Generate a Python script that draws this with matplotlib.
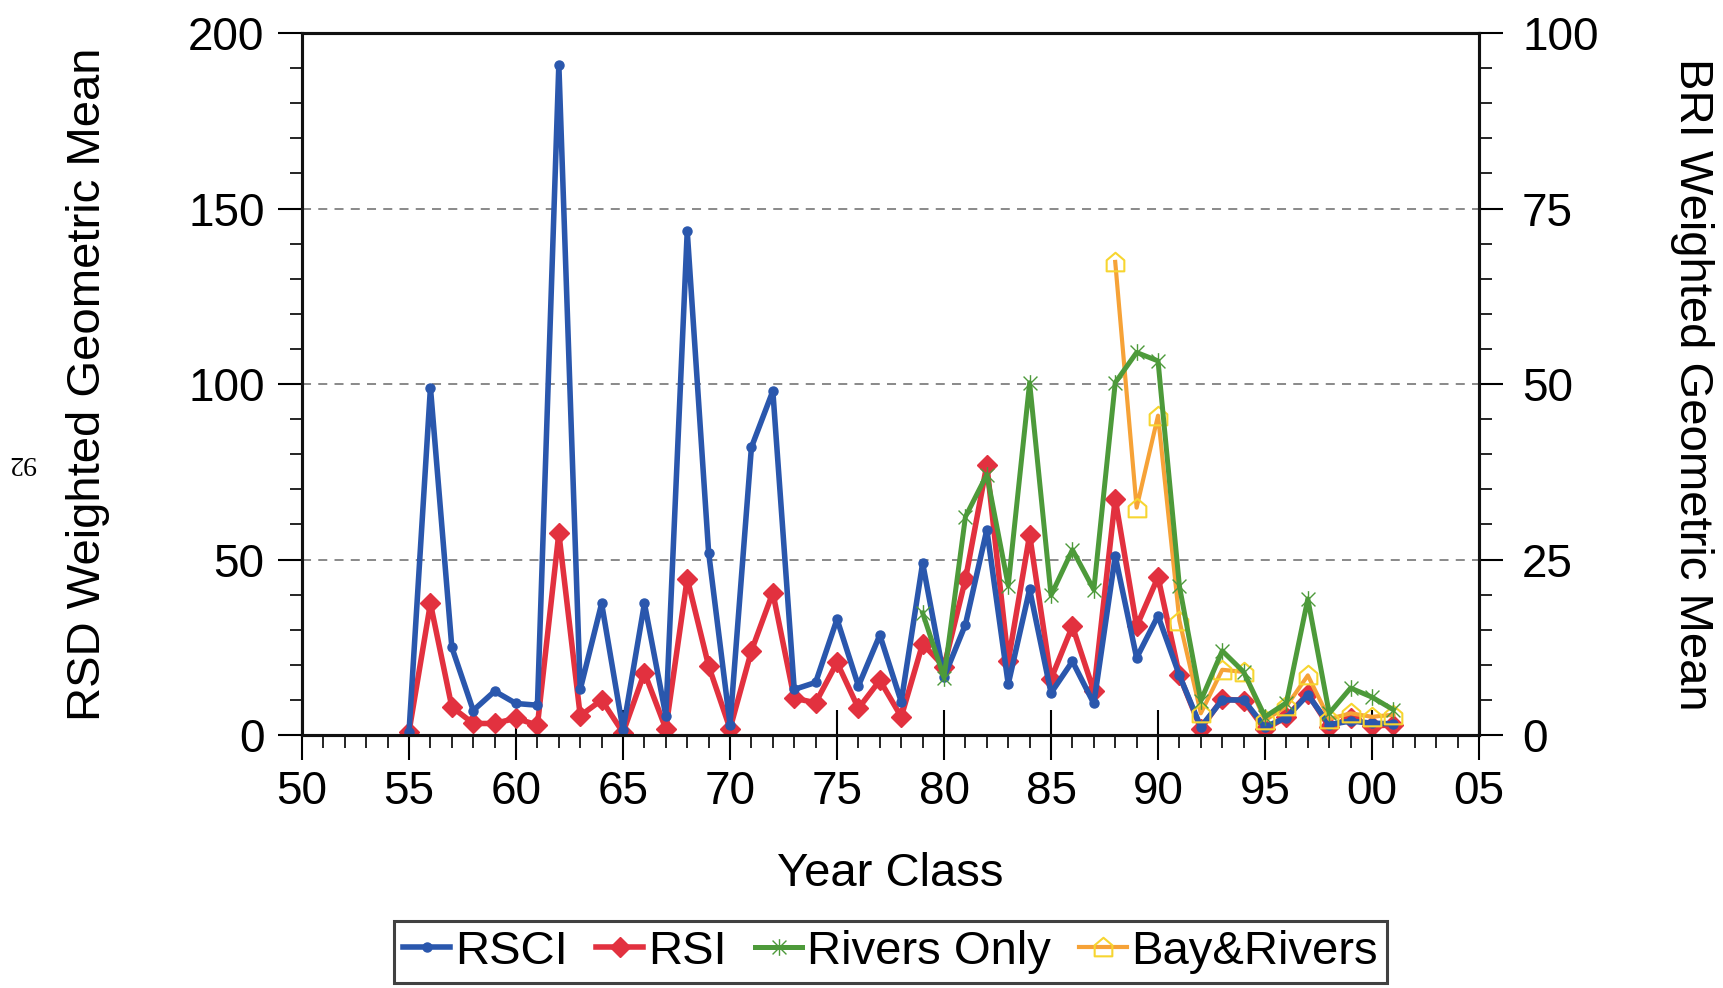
import numpy as np
import matplotlib
matplotlib.use("Agg")
import matplotlib.pyplot as plt
from matplotlib.path import Path
from matplotlib.ticker import MultipleLocator, FuncFormatter
from matplotlib.lines import Line2D

plt.rcParams['font.family'] = ['Liberation Sans', 'DejaVu Sans']

# year classes and index values
years_main = np.arange(1955, 2002)
rsci = [1, 99, 25, 7, 12.5, 9, 8.5, 191, 13, 37.5, 1.5, 37.5, 5.5, 143.5, 52, 3,
        82, 98, 13, 15, 33, 14, 28.5, 9.5, 49, 16.5, 31.5, 58.5, 14.5, 41.5, 12,
        21, 9, 51, 22, 34, 17, 2.3, 10, 10, 2.3, 5, 11.5, 3, 4, 3.4, 3.2]
rsi = [1, 37.5, 8, 3.3, 3.3, 4.8, 2.8, 57.5, 5.5, 10, 0.7, 17.8, 1.8, 44.6, 19.7,
       1.8, 24, 40.6, 10.5, 9.2, 20.7, 7.6, 15.6, 5.2, 26, 19.5, 44.4, 77, 21, 57,
       16, 31, 12.5, 67.3, 31, 45, 17, 1.8, 10.3, 9.8, 1.6, 5.2, 11.8, 2.3, 4.9,
       2.6, 2.9]

years_rivers = np.arange(1979, 2002)
rivers_only = [17.4, 8.2, 31.1, 37.1, 21.3, 50.2, 19.9, 26.4, 20.7, 50.2, 54.5,
               53.3, 21.2, 4.9, 12, 9, 2.6, 4.6, 19.4, 3.1, 6.7, 5.4, 3.6]

years_bay = np.arange(1988, 2002)
bay_rivers = [67.4, 32.4, 45.5, 16.3, 3.1, 9.3, 9, 2.1, 4.1, 8.5, 2.3, 3.1, 2.6, 2.9]

# excel-style star (x with a vertical bar) and house markers
star = Path([(-1, -1), (1, 1), (-1, 1), (1, -1), (0, -1.2), (0, 1.2)],
            [Path.MOVETO, Path.LINETO, Path.MOVETO, Path.LINETO, Path.MOVETO, Path.LINETO])
house = Path([(-1, -1), (1, -1), (1, 0.25), (0, 1.1), (-1, 0.25), (-1, -1)],
             [Path.MOVETO, Path.LINETO, Path.LINETO, Path.LINETO, Path.LINETO, Path.CLOSEPOLY])

blue = '#2a57ad'
red = '#e2313f'
green = '#4d9a3a'
orange = '#f6a237'
yellow = '#f7d530'

styles = {
    'RSCI': dict(color=blue, lw=4.0, marker='o', ms=6.5),
    'RSI': dict(color=red, lw=4.0, marker='D', ms=10),
    'Rivers Only': dict(color=green, lw=3.6, marker=star, ms=12, mec=green, mew=1.0),
    'Bay&Rivers': dict(color=orange, lw=3.0, marker=house, ms=14, mfc='none',
                       mec=yellow, mew=1.5),
}

fig = plt.figure(figsize=(17.23, 9.88), dpi=100)
ax = fig.add_axes([0.1753, 0.256, 0.6831, 0.7105])
ax2 = ax.twinx()

ax.plot(years_main, rsi, zorder=3, **styles['RSI'])
ax.plot(years_main, rsci, zorder=4, **styles['RSCI'])
ax2.plot(years_rivers, rivers_only, zorder=4, **styles['Rivers Only'])
ax2.plot(years_bay, bay_rivers, zorder=3, **styles['Bay&Rivers'])

ax.set_xlim(1950, 2005)
ax.set_ylim(0, 200)
ax2.set_ylim(0, 100)

ax.xaxis.set_major_locator(MultipleLocator(5))
ax.xaxis.set_minor_locator(MultipleLocator(1))
ax.xaxis.set_major_formatter(FuncFormatter(lambda v, p: f"{int(round(v)) % 100:02d}"))
ax.yaxis.set_major_locator(MultipleLocator(50))
ax.yaxis.set_minor_locator(MultipleLocator(10))
ax2.yaxis.set_major_locator(MultipleLocator(25))
ax2.yaxis.set_minor_locator(MultipleLocator(5))

ax.grid(axis='y', which='major', color='#808080', ls=(0, (5, 4)), lw=1.3)
ax.set_axisbelow(True)

for a in (ax, ax2):
    for s in a.spines.values():
        s.set_linewidth(2.2)
        s.set_color('#111111')

ax.tick_params(axis='x', which='major', direction='inout', length=36, width=1.5,
               labelsize=33, pad=7)
ax.tick_params(axis='x', which='minor', direction='out', length=9, width=1.2)
ax.tick_params(axis='y', which='major', direction='out', length=17, width=1.5,
               labelsize=33, pad=10)
ax.tick_params(axis='y', which='minor', direction='out', length=9, width=1.2)
ax2.tick_params(axis='y', which='major', direction='out', length=17, width=1.5,
                labelsize=33, pad=14)
ax2.tick_params(axis='y', which='minor', direction='out', length=9, width=1.2)

ax.set_xlabel('Year Class', fontsize=34)
ax.xaxis.set_label_coords(0.5, -0.198)
ax.xaxis.label.set_va('center')
ax.set_ylabel('RSD Weighted Geometric Mean', fontsize=34)
ax.yaxis.set_label_coords(-0.182, 0.5)
ax.yaxis.label.set_va('center')
ax2.set_ylabel('BRI Weighted Geometric Mean', fontsize=34, rotation=270)
ax2.yaxis.set_label_coords(1.181, 0.5)
ax2.yaxis.label.set_va('center')

# page number along the binding edge
fig.text(0.013, 0.532, '92', rotation=180, fontsize=20, family='Liberation Serif',
         ha='center', va='center')

labels = ['RSCI', 'RSI', 'Rivers Only', 'Bay&Rivers']
handles = [Line2D([], [], **styles[k]) for k in labels]
leg = ax.legend(handles, labels, loc='center', bbox_to_anchor=(0.5, -0.309), ncol=4,
                fontsize=34, frameon=True, fancybox=False, edgecolor='#111111',
                handlelength=1.0, handletextpad=0.1, columnspacing=0.6,
                borderpad=0.2, borderaxespad=0)
leg.get_frame().set_linewidth(2.2)

fig.savefig('out.png', dpi=100)
